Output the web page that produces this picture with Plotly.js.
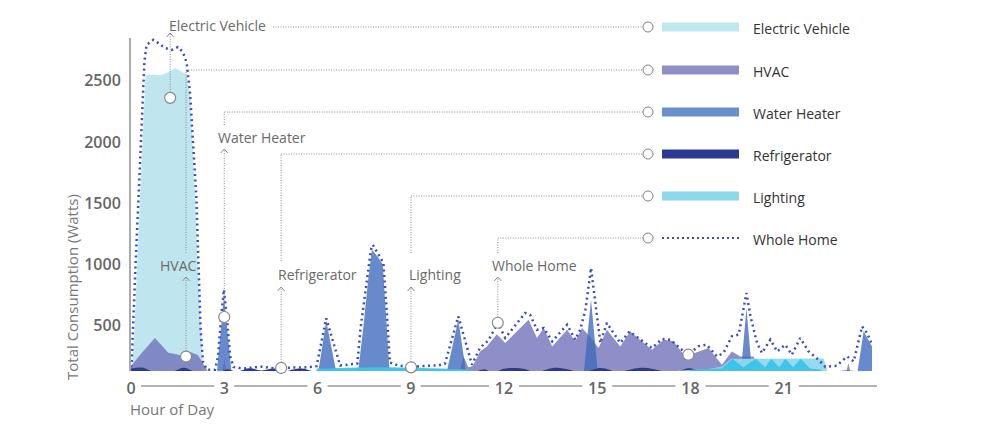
<!DOCTYPE html>
<html><head><meta charset="utf-8">
<script src="https://cdn.plot.ly/plotly-3.0.1.min.js"></script>
<style>html,body{margin:0;padding:0;background:#fff}#chart{width:982px;height:437px}</style>
</head><body><div id="chart"></div><script>
// ---------- DATA ----------
const seriesNames = ['Electric Vehicle','HVAC','Water Heater','Refrigerator','Lighting','Whole Home'];
const xTickVals = [0,3,6,9,12,15,18,21];
const xTickText = ['0','3','6','9','12','15','18','21'];
const yTickVals = [500,1000,1500,2000,2500];
const yTickText = ['500','1000','1500','2000','2500'];

const evHours = [0, 0.11, 0.29, 0.47, 0.7, 0.95, 1.18, 1.42, 1.6, 1.79, 1.9, 2.06, 2.19, 2.29, 2.36];
const evWatts = [0, 468, 1553, 2549, 2550, 2545, 2568, 2604, 2580, 2549, 2370, 1555, 739, 199, 0];

const hvacHours = [0,0.35,0.77,1.0,1.2,1.5,1.65,1.85,2.0,2.15,2.3,2.45,2.6,2.88,3.0,3.12,10.45,10.7,10.85,11.0,11.23,11.45,11.77,12.04,12.79,13.06,13.28,13.55,14.03,14.29,14.51,14.8,15.04,15.31,15.74,16.06,16.76,17.13,17.45,17.83,18.58,19.01,19.33,19.6,20.03,20.14,20.3,22.9,23.08,23.25];
const hvacWatts = [170,280,400,340,280,265,250,290,275,260,200,140,0,0,230,0,0,250,160,170,290,331,430,359,549,400,481,331,467,372,481,400,318,467,331,453,304,386,372,249,318,182,290,249,249,182,0,0,195,0];

const heaterHours = [2.72,2.99,3.28,5.95,6.28,6.7,7.25,7.35,7.48,7.62,7.75,7.95,8.1,8.2,8.3,8.35,10.05,10.53,10.85,14.52,14.8,15.06,19.58,19.8,20.02,23.3,23.57,23.84];
const heaterWatts = [0,740,0,0,540,0,0,200,500,850,1120,1060,1000,600,100,0,0,549,0,0,712,0,0,644,0,0,454,331];

const fridgeHours = [0,0.35,0.7,1.0,1.35,1.7,2.05,2.4,2.8,3.1,3.4,3.8,4.2,4.6,4.9,5.2,5.5,5.9,6.3,7.0,7.6,8.5,9.5,10.2,11.0,11.4,11.6,12.0,12.3,12.7,13.0,13.4,13.7,14.1,14.5,14.9,15.1,15.4,15.6,16.1,16.5,17.0,17.4,17.8,18.0,18.3,18.8,19.5,20.5,21.5,22.5,23.0,23.84];
const fridgeWatts = [150,158,125,110,125,156,125,110,110,145,125,152,135,150,125,142,150,125,115,120,135,115,135,115,120,143,115,148,155,145,115,145,156,140,115,145,155,140,115,145,156,135,115,145,152,130,120,135,120,135,120,135,115];

const lightHours = [5.6,6.0,7.0,8.0,9.0,10.0,10.8,11.2,17.0,17.6,18.5,19.0,19.3,22.28,22.38,22.5];
const lightWatts = [0,145,150,155,150,145,140,0,0,135,145,165,230,232,150,0];
const lightPeakHours = [5.6,6.0,8.0,9.0,10.0,11.0,11.3,17.5,18.0,19.0,19.35,19.7,20.1,20.4,20.6,20.85,21.05,21.3,21.55,21.85,22.2,22.5];
const lightPeakWatts = [0,150,162,158,150,140,0,0,140,150,230,160,230,160,230,160,230,160,230,150,140,0];

const homeHours = [0,0.02,0.15,0.24,0.34,0.43,0.5,0.72,0.87,1.09,1.31,1.51,1.67,1.79,1.9,2.0,2.1,2.17,2.24,2.32,2.45,2.7,2.8,2.9,2.99,3.08,3.19,3.3,3.6,3.9,4.2,4.5,4.83,5.1,5.4,5.7,5.97,6.28,6.73,7.0,7.28,7.38,7.55,7.72,7.78,8.0,8.12,8.23,8.33,8.6,9.0,9.4,9.9,10.1,10.53,10.97,11.23,11.5,11.8,12.04,12.68,12.84,13.06,13.28,13.55,14.03,14.29,14.45,14.62,14.8,14.94,15.1,15.31,15.74,16.04,16.4,16.76,17.08,17.35,17.72,17.93,18.25,18.52,18.85,19.06,19.33,19.55,19.8,19.93,20.14,20.3,20.57,20.79,21.05,21.26,21.53,21.8,22.12,22.34,22.7,23.04,23.25,23.52,23.68,23.84];
const homeWatts = [160,199,1015,1553,2239,2647,2794,2835,2810,2769,2753,2777,2736,2647,2400,1990,1560,1015,468,199,141,141,249,576,794,576,249,163,150,158,165,155,158,155,163,160,170,560,175,182,190,467,794,1121,1161,1066,1014,606,199,175,162,170,176,190,576,182,320,380,524,400,604,590,467,481,372,508,386,467,630,971,685,359,522,359,453,386,318,391,386,304,263,331,345,249,277,413,427,767,576,359,277,386,290,345,263,399,290,222,163,173,249,208,494,440,345];

// callout points (one per series, plus an extra one on Whole Home)
const calloutHours = [1.26, 1.77, 3.0, 4.83, 9.01, 11.8, 17.93];
const calloutWatts = [2361, 248, 571, 155, 160, 524, 263];

// ---------- LAYOUT GEOMETRY ----------
const L=131, T=38, W=746, H=333;
const XR=[0,24], YR=[130,2850];
const px2x = X => (X-L)/W;
const px2y = Y => (T+H-Y)/H;
const h2px = h => L + (h-XR[0])/(XR[1]-XR[0])*W;
const w2py = v => T+H - (v-YR[0])/(YR[1]-YR[0])*H;

const FONT = 'Open Sans, Lato, sans-serif';
const colors = {
  ev:'#bfe6ee', hvac:'rgba(110,110,185,0.78)', heater:'rgba(60,105,190,0.78)',
  fridge:'#2b3990', light:'rgba(143,217,238,0.95)', lightPeak:'rgba(50,192,234,0.85)', home:'#3a4cc0'
};
const swatch = ['#bfe7ee','#8f8fc8','#6a8dcb','#2b3990','#8ed8ec',null];

function area(x,y,color,shape){
  return {x:x,y:y,type:'scatter',mode:'lines',line:{width:0,shape:shape||'linear'},fill:'tozeroy',fillcolor:color,showlegend:false,hoverinfo:'skip'};
}
const traces = [
  area(evHours, evWatts, colors.ev),
  area(hvacHours, hvacWatts, colors.hvac),
  area(heaterHours, heaterWatts, colors.heater),
  area(fridgeHours, fridgeWatts, colors.fridge, 'spline'),
  area(lightHours, lightWatts, colors.light),
  area(lightPeakHours, lightPeakWatts, colors.lightPeak),
  {x:homeHours, y:homeWatts, type:'scatter', mode:'lines', line:{color:colors.home, width:2.5, dash:'2px,3.5px'}, showlegend:false, hoverinfo:'skip'},
  {x:calloutHours, y:calloutWatts, type:'scatter', mode:'markers', cliponaxis:false,
   marker:{size:11, color:'#fff', line:{color:'#888', width:1.2}}, showlegend:false, hoverinfo:'skip'}
];

const shapes = [];
const annotations = [];
const dotLine = {color:'#8a8a8a', width:1, dash:'1px,1.5px'};
function seg(X0,Y0,X1,Y1,line){shapes.push({type:'line',xref:'paper',yref:'paper',x0:px2x(X0),y0:px2y(Y0),x1:px2x(X1),y1:px2y(Y1),line:line,layer:'above'});}
function chevron(X,Y){
  const p = 'M'+px2x(X-3.5)+','+px2y(Y+4)+' L'+px2x(X)+','+px2y(Y)+' L'+px2x(X+3.5)+','+px2y(Y+4);
  shapes.push({type:'path',xref:'paper',yref:'paper',path:p,line:{color:'#888',width:1},layer:'above'});
}

// x axis line broken around tick labels
const axisY = 386;
for(let i=0;i<xTickVals.length;i++){
  const hw = xTickText[i].length*5;
  const start = h2px(xTickVals[i]) + hw + 5;
  let end;
  if(i<xTickVals.length-1){ end = h2px(xTickVals[i+1]) - xTickText[i+1].length*5 - 5; }
  else { end = h2px(XR[1]); }
  seg(start, axisY, end, axisY, {color:'#9a9a9a', width:1.5});
}

// legend rows + leader lines
const rowY = [27,70,112,154,196,238];
const labelPos = [[217,26],[178,265],[262,137],[317,274],[435,274],[534,265]];
const tipY = [33,277,149,287,287,277];
const upperBottom = [null,253,125,261,253,253];
const legCircleX = 648, swX0 = 662, swX1 = 739, legTextX = 752;

for(let i=0;i<6;i++){
  const cx = h2px(calloutHours[i]);
  const cy = w2py(calloutWatts[i]);
  seg(cx, cy-5.5, cx, tipY[i]+1, dotLine);
  chevron(cx, tipY[i]);
  annotations.push({xref:'paper',yref:'paper',x:px2x(labelPos[i][0]),y:px2y(labelPos[i][1]),text:seriesNames[i],showarrow:false,xanchor:'center',yanchor:'middle',font:{family:FONT,size:14,color:'#6a6a6a'}});
  if(i===0){
    seg(273, rowY[0], legCircleX-5, rowY[0], dotLine);
  } else {
    seg(cx, upperBottom[i], cx, rowY[i], dotLine);
    seg(cx, rowY[i], legCircleX-5, rowY[i], dotLine);
  }
  shapes.push({type:'circle',xref:'paper',yref:'paper',x0:px2x(legCircleX-5),x1:px2x(legCircleX+5),y0:px2y(rowY[i]+5),y1:px2y(rowY[i]-5),fillcolor:'#fff',line:{color:'#808080',width:1},layer:'above'});
  if(swatch[i]){
    shapes.push({type:'rect',xref:'paper',yref:'paper',x0:px2x(swX0),x1:px2x(swX1),y0:px2y(rowY[i]+4.5),y1:px2y(rowY[i]-4.5),fillcolor:swatch[i],line:{width:0},layer:'above'});
  } else {
    seg(swX0, rowY[i], swX1, rowY[i], {color:colors.home, width:2, dash:'2px,3px'});
  }
  annotations.push({xref:'paper',yref:'paper',x:px2x(legTextX-1),y:px2y(rowY[i]+1),text:seriesNames[i],showarrow:false,xanchor:'left',yanchor:'middle',font:{family:FONT,size:14,color:'#333'}});
}

annotations.push({xref:'paper',yref:'paper',x:px2x(72),y:px2y(287),text:'Total Consumption (Watts)',textangle:-90,showarrow:false,xanchor:'center',yanchor:'middle',font:{family:FONT,size:15,color:'#777'}});
annotations.push({xref:'paper',yref:'paper',x:px2x(128),y:px2y(409),text:'Hour of Day',showarrow:false,xanchor:'left',yanchor:'middle',font:{family:FONT,size:15,color:'#777'}});

const layout = {
  width:982, height:437,
  margin:{l:L, r:982-L-W, t:T, b:437-T-H, pad:0},
  paper_bgcolor:'#fff', plot_bgcolor:'rgba(0,0,0,0)',
  showlegend:false,
  xaxis:{range:XR, showgrid:false, zeroline:false, showline:false, ticks:'', tickvals:xTickVals, ticktext:xTickText,
         ticklabelstandoff:6, tickfont:{family:FONT,size:16,color:'#666',weight:600}, fixedrange:true},
  yaxis:{range:YR, showgrid:false, zeroline:false, showline:true, linecolor:'#aaa', linewidth:2, ticks:'',
         tickvals:yTickVals, ticktext:yTickText, ticklabelstandoff:5, tickfont:{family:FONT,size:16,color:'#666',weight:600}, fixedrange:true},
  shapes:shapes, annotations:annotations
};
Plotly.newPlot('chart', traces, layout, {displayModeBar:false, staticPlot:true});
</script></body></html>
